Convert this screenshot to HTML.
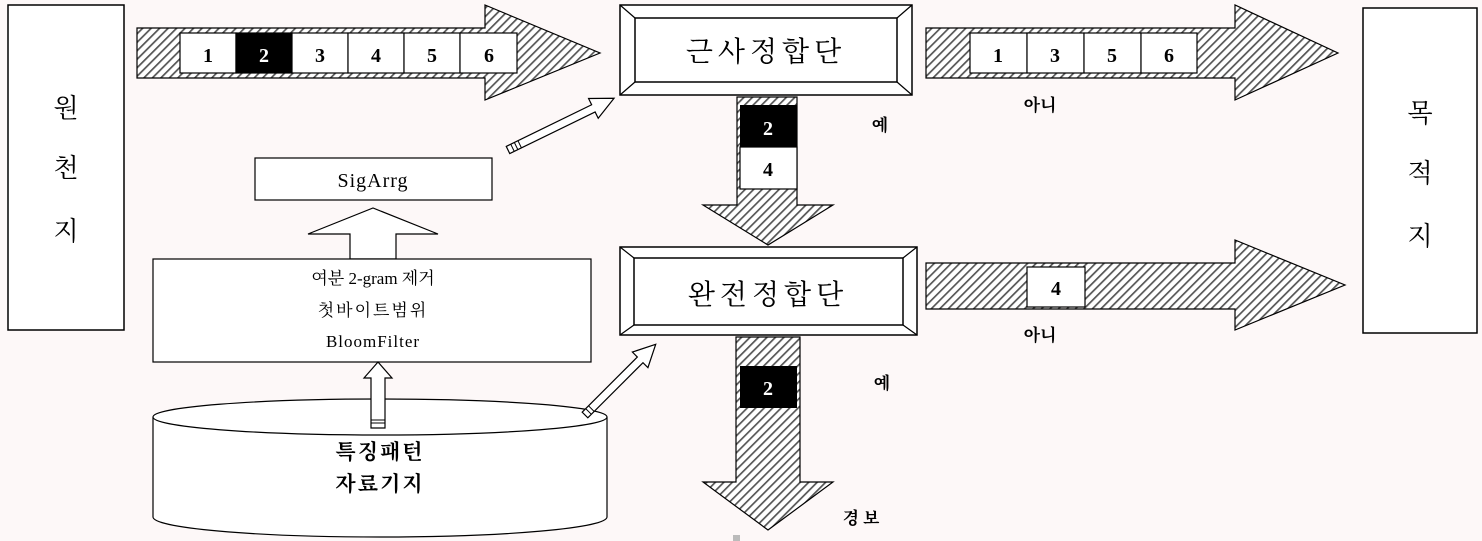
<!DOCTYPE html>
<html><head><meta charset="utf-8"><style>
html,body{margin:0;padding:0;background:#fdf8f8;}
svg{display:block;}
text{font-family:"Liberation Serif","Noto Serif CJK SC","Noto Sans CJK KR",serif;fill:#000;}
</style></head><body>
<svg width="1482" height="541" viewBox="0 0 1482 541" xmlns="http://www.w3.org/2000/svg">
<defs>
<pattern id="h" width="6" height="6" patternUnits="userSpaceOnUse" patternTransform="rotate(45)">
<rect width="6" height="6" fill="#fff"/><rect width="1.7" height="6" fill="#555"/>
</pattern>
</defs>
<rect width="1482" height="541" fill="#fdf8f8"/>
<rect x="8" y="5" width="116" height="325" fill="#fff" stroke="#000" stroke-width="1.5"/>
<text x="66" y="117" font-size="26" text-anchor="middle" font-family="Noto Sans CJK KR">원</text>
<text x="66" y="177" font-size="26" text-anchor="middle" font-family="Noto Sans CJK KR">천</text>
<text x="66" y="240" font-size="26" text-anchor="middle" font-family="Noto Sans CJK KR">지</text>
<rect x="1363" y="8" width="114" height="325" fill="#fff" stroke="#000" stroke-width="1.5"/>
<text x="1420" y="122" font-size="26" text-anchor="middle" font-family="Noto Sans CJK KR">목</text>
<text x="1420" y="182" font-size="26" text-anchor="middle" font-family="Noto Sans CJK KR">적</text>
<text x="1420" y="245" font-size="26" text-anchor="middle" font-family="Noto Sans CJK KR">지</text>

<polygon points="137,28 485,28 485,5 600,53 485,100 485,78 137,78" fill="url(#h)" stroke="#000" stroke-width="1.2"/>
<g stroke="#000" stroke-width="1.2">
<rect x="180" y="33" width="56" height="40" fill="#fff"/>
<rect x="236" y="33" width="56" height="40" fill="#000"/>
<rect x="292" y="33" width="56" height="40" fill="#fff"/>
<rect x="348" y="33" width="56" height="40" fill="#fff"/>
<rect x="404" y="33" width="56" height="40" fill="#fff"/>
<rect x="460" y="33" width="57" height="40" fill="#fff"/>
</g>
<g font-size="20" font-weight="bold" text-anchor="middle">
<text x="208" y="62">1</text><text x="264" y="62" style="fill:#fff">2</text><text x="320" y="62">3</text><text x="376" y="62">4</text><text x="432" y="62">5</text><text x="489" y="62">6</text>
</g>

<rect x="620" y="5" width="292" height="90" fill="#fff" stroke="#000" stroke-width="1.5"/>
<rect x="635" y="18" width="262" height="64" fill="#fff" stroke="#000" stroke-width="1.5"/>
<path d="M620,5 L635,18 M912,5 L897,18 M620,95 L635,82 M912,95 L897,82" stroke="#000" stroke-width="1.2"/>
<text x="766" y="61" font-size="28" text-anchor="middle" letter-spacing="5" font-family="Noto Serif CJK SC">근사정합단</text>

<polygon points="737,97 797,97 797,205 833,205 768,245 703,205 737,205" fill="url(#h)" stroke="#000" stroke-width="1.2"/>
<rect x="740" y="105" width="57" height="42" fill="#000"/>
<rect x="740" y="147" width="57" height="42" fill="#fff" stroke="#000" stroke-width="1.2"/>
<text x="768" y="135" font-size="20" font-weight="bold" text-anchor="middle" style="fill:#fff">2</text>
<text x="768" y="176" font-size="20" font-weight="bold" text-anchor="middle">4</text>
<text x="880" y="131" font-size="17" font-weight="bold" text-anchor="middle" font-family="Noto Sans CJK KR">예</text>

<polygon points="926,28 1235,28 1235,5 1338,53 1235,100 1235,78 926,78" fill="url(#h)" stroke="#000" stroke-width="1.2"/>
<g stroke="#000" stroke-width="1.2" fill="#fff">
<rect x="970" y="33" width="57" height="40"/><rect x="1027" y="33" width="57" height="40"/><rect x="1084" y="33" width="57" height="40"/><rect x="1141" y="33" width="56" height="40"/>
</g>
<g font-size="20" font-weight="bold" text-anchor="middle">
<text x="998" y="62">1</text><text x="1055" y="62">3</text><text x="1112" y="62">5</text><text x="1169" y="62">6</text>
</g>
<text x="1040" y="111" font-size="17" font-weight="bold" text-anchor="middle" font-family="Noto Sans CJK KR">아니</text>

<rect x="620" y="247" width="297" height="88" fill="#fff" stroke="#000" stroke-width="1.5"/>
<rect x="634" y="258" width="269" height="67" fill="#fff" stroke="#000" stroke-width="1.5"/>
<path d="M620,247 L634,258 M917,247 L903,258 M620,335 L634,325 M917,335 L903,325" stroke="#000" stroke-width="1.2"/>
<text x="768" y="304" font-size="28" text-anchor="middle" letter-spacing="5" font-family="Noto Serif CJK SC">완전정합단</text>

<polygon points="926,263 1235,263 1235,240 1345,285 1235,330 1235,309 926,309" fill="url(#h)" stroke="#000" stroke-width="1.2"/>
<rect x="1027" y="267" width="58" height="40" fill="#fff" stroke="#000" stroke-width="1.2"/>
<text x="1056" y="295" font-size="20" font-weight="bold" text-anchor="middle">4</text>
<text x="1040" y="341" font-size="17" font-weight="bold" text-anchor="middle" font-family="Noto Sans CJK KR">아니</text>

<polygon points="736,337 800,337 800,482 833,482 768,530 703,482 736,482" fill="url(#h)" stroke="#000" stroke-width="1.2"/>
<rect x="740" y="366" width="57" height="42" fill="#000"/>
<text x="768" y="395" font-size="20" font-weight="bold" text-anchor="middle" style="fill:#fff">2</text>
<text x="882" y="389" font-size="17" font-weight="bold" text-anchor="middle" font-family="Noto Sans CJK KR">예</text>
<text x="863" y="524" font-size="17" font-weight="bold" text-anchor="middle" letter-spacing="4" font-family="Noto Sans CJK KR">경보</text>
<rect x="733" y="535" width="7" height="6" fill="#bbb"/>

<rect x="255" y="158" width="237" height="42" fill="#fff" stroke="#000" stroke-width="1.2"/>
<text x="373" y="187" font-size="20" text-anchor="middle" letter-spacing="1">SigArrg</text>
<polygon points="350,259 350,234 308,234 373,208 438,234 396,234 396,259" fill="#fff" stroke="#000" stroke-width="1.2"/>
<rect x="153" y="259" width="438" height="103" fill="#fff" stroke="#000" stroke-width="1.2"/>
<text x="373" y="284" font-size="17" text-anchor="middle" font-family="Noto Serif CJK SC">여분 2-gram 제거</text>
<text x="373" y="316" font-size="17" text-anchor="middle" font-family="Noto Serif CJK SC" letter-spacing="2">첫바이트범위</text>
<text x="373" y="347" font-size="17" text-anchor="middle" letter-spacing="1">BloomFilter</text>

<path d="M153,417 L153,517 A227,20 0 0 0 607,517 L607,417" fill="#fff" stroke="#000" stroke-width="1.2"/>
<ellipse cx="380" cy="417" rx="227" ry="18" fill="#fff" stroke="#000" stroke-width="1.2"/>
<text x="380" y="459" font-size="21" font-weight="bold" text-anchor="middle" letter-spacing="2" font-family="Noto Sans CJK KR">특징패턴</text>
<text x="380" y="491" font-size="21" font-weight="bold" text-anchor="middle" letter-spacing="2" font-family="Noto Sans CJK KR">자료기지</text>

<polygon points="371,428 371,378 364,378 378,362 392,378 385,378 385,428" fill="#fff" stroke="#000" stroke-width="1.2"/>
<line x1="371" y1="420" x2="385" y2="420" stroke="#000"/><line x1="371" y1="423" x2="385" y2="423" stroke="#000"/>

<g transform="translate(508,150) rotate(-26)">
<polygon points="0,-4 95,-4 95,-11 118,0 95,11 95,4 0,4" fill="#fff" stroke="#000" stroke-width="1.2"/>
<line x1="5" y1="-4" x2="5" y2="4" stroke="#000"/><line x1="9" y1="-4" x2="9" y2="4" stroke="#000"/><line x1="13" y1="-4" x2="13" y2="4" stroke="#000"/>
</g>
<g transform="translate(585,415) rotate(-45)">
<polygon points="0,-4 78,-4 78,-11 100,0 78,11 78,4 0,4" fill="#fff" stroke="#000" stroke-width="1.2"/>
<line x1="5" y1="-4" x2="5" y2="4" stroke="#000"/><line x1="9" y1="-4" x2="9" y2="4" stroke="#000"/>
</g>
</svg>
</body></html>
